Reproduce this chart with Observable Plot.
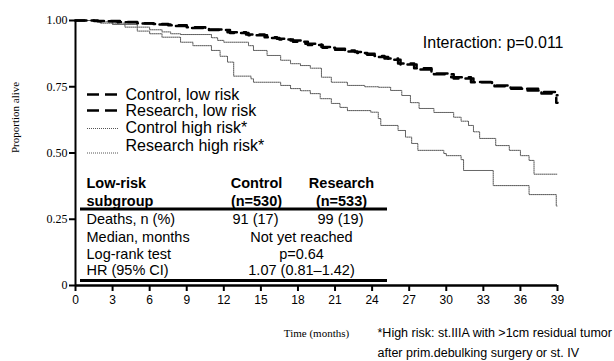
<!DOCTYPE html>
<html><head><meta charset="utf-8">
<script src="https://cdn.jsdelivr.net/npm/d3@7"></script>
<script src="https://cdn.jsdelivr.net/npm/@observablehq/plot@0.6"></script>
<style>html,body{margin:0;padding:0;background:#fff;}</style>
</head><body><div id="chart"></div>
<script>
// ---- data ----
const xTicks = [0,3,6,9,12,15,18,21,24,27,30,33,36,39];
const yTicks = [0,0.25,0.5,0.75,1];
const yTickLabels = ["0","0.25","0.50","0.75","1.00"];

const ctrlLowT = [0,1.5,3.6,5,6.3,7.5,9,10.5,12.3,13.8,15.3,16.3,17.4,18.6,19.9,20.8,21.8,22.6,23.4,24.2,25,26.1,27.4,28.8,30.4,32,33.7,35,36.3,37.5,38.9,39];
const ctrlLowS = [1,0.998,0.994,0.99,0.987,0.982,0.975,0.966,0.956,0.947,0.937,0.931,0.925,0.912,0.9,0.893,0.887,0.881,0.875,0.866,0.857,0.838,0.82,0.8,0.786,0.767,0.755,0.742,0.736,0.73,0.69,0.69];
const resLowT = [0,1.8,3.4,5.2,6.5,7.8,9.2,10.8,12.5,14,15.5,16.5,17.6,18.8,20,21,22,22.8,23.6,24.4,25.3,26.3,27.6,29,30.6,32.2,33.9,35.2,36.5,37.7,38.7,39];
const resLowS = [1,0.997,0.993,0.989,0.985,0.979,0.972,0.964,0.953,0.944,0.934,0.928,0.92,0.908,0.897,0.89,0.883,0.877,0.871,0.862,0.852,0.834,0.815,0.797,0.781,0.768,0.752,0.746,0.742,0.725,0.718,0.718];
const ctrlHighT = [0,2.3,3,4,5,6,7,7.7,8.5,11,11.5,12,14,14.4,15.5,16.6,17.4,18.2,19,19.9,20.7,22,23.4,24.5,25.5,26.4,27.1,27.8,29,30.6,31.2,31.8,32.2,32.7,34,35.1,36,36.7,37.1,39];
const ctrlHighS = [1,0.995,0.99,0.985,0.975,0.965,0.957,0.95,0.947,0.935,0.925,0.918,0.905,0.887,0.868,0.85,0.837,0.83,0.82,0.786,0.767,0.755,0.75,0.748,0.736,0.717,0.69,0.668,0.653,0.635,0.62,0.604,0.58,0.555,0.528,0.51,0.49,0.472,0.42,0.42];
const resHighT = [0,2,3,4,5,6,7,8.5,9.5,11,11.7,12.3,12.8,14.2,14.4,16.6,17.4,18.2,19,19.8,20.7,21.4,22,23.9,24.5,24.7,26.1,26.7,27.2,27.7,29.8,30,31.2,31.4,33.8,36.7,38.9,39];
const resHighS = [1,0.99,0.985,0.975,0.96,0.95,0.937,0.918,0.905,0.887,0.865,0.843,0.79,0.78,0.767,0.755,0.743,0.735,0.724,0.705,0.687,0.672,0.66,0.654,0.63,0.604,0.585,0.56,0.536,0.51,0.498,0.49,0.475,0.434,0.377,0.343,0.3,0.3];

const legendLabels = ["Control, low risk","Research, low risk","Control high risk*","Research high risk*"];
const tableHeadLeft = ["Low-risk","subgroup"];
const controlHead = ["Control","(n=530)"];
const researchHead = ["Research","(n=533)"];
const rowLabels = ["Deaths, n (%)","Median, months","Log-rank test","HR (95% CI)"];
const deaths = ["91 (17)","99 (19)"];
const spanValues = ["Not yet reached","p=0.64","1.07 (0.81\u20131.42)"];
const interactionText = "Interaction: p=0.011";
const footnote = "*High risk: st.IIIA with >1cm residual tumor\nafter prim.debulking surgery or st. IV";
const xLabel = "Time (months)";
const yLabel = "Proportion alive";

// ---- layout ----
const W = 614, H = 361, ML = 75, MR = 57, MT = 20, MB = 76;
const px2x = px => (px - ML) * 39 / (W - ML - MR);
const py2y = py => (H - MB - py) / (H - MB - MT);
const pts = (T, S) => T.map((t, i) => ({t, s: S[i]}));
const SANS = "Liberation Sans, Arial, sans-serif";
const SERIF = "Liberation Serif, Times New Roman, serif";

const legendY = [94, 110, 127.5, 145.5];
const legendLineY = [94, 110, 128, 152.5];
const rowY = [219, 237, 254, 270];
const TFS = 14.5;

const chart = Plot.plot({
  width: W, height: H,
  marginLeft: ML, marginRight: MR, marginTop: MT, marginBottom: MB,
  style: {fontFamily: SANS, fontSize: "12px", background: "#fff", color: "#000"},
  x: {domain: [0, 39]},
  y: {domain: [0, 1]},
  marks: [
    Plot.axisY({ticks: yTicks, tickFormat: d => yTickLabels[yTicks.indexOf(d)], tickSize: 6, tickPadding: 2, strokeWidth: 2, fontFamily: SERIF, fontSize: 12, label: null}),
    Plot.axisX({ticks: xTicks, tickSize: 6, tickPadding: 4, strokeWidth: 2, fontSize: 12, label: null}),
    Plot.ruleX([0], {y1: 0, y2: 1, strokeWidth: 2}),
    Plot.ruleY([0], {x1: 0, x2: 39, strokeWidth: 2.5}),
    // curves
    Plot.line(pts(ctrlHighT, ctrlHighS), {x: "t", y: "s", curve: "step-after", stroke: "#555", strokeWidth: 1, strokeDasharray: "1,1"}),
    Plot.line(pts(resHighT, resHighS), {x: "t", y: "s", curve: "step-after", stroke: "#555", strokeWidth: 1, strokeDasharray: "1,1"}),
    Plot.line(pts(ctrlLowT, ctrlLowS), {x: "t", y: "s", curve: "step-after", stroke: "#000", strokeWidth: 2.5, strokeDasharray: "11,7"}),
    Plot.line(pts(resLowT, resLowS), {x: "t", y: "s", curve: "step-after", stroke: "#000", strokeWidth: 2.5, strokeDasharray: "11,7", strokeDashoffset: 2}),
    // legend
    Plot.ruleY([legendLabels[0]], {y: () => py2y(legendLineY[0]), x1: px2x(87), x2: px2x(118), stroke: "#000", strokeWidth: 2.5, strokeDasharray: "12,6"}),
    Plot.ruleY([legendLabels[1]], {y: () => py2y(legendLineY[1]), x1: px2x(87), x2: px2x(118), stroke: "#000", strokeWidth: 2.5, strokeDasharray: "12,6"}),
    Plot.ruleY([legendLabels[2]], {y: () => py2y(legendLineY[2]), x1: px2x(87), x2: px2x(118), stroke: "#555", strokeWidth: 1, strokeDasharray: "1,1"}),
    Plot.ruleY([legendLabels[3]], {y: () => py2y(legendLineY[3]), x1: px2x(87), x2: px2x(118), stroke: "#555", strokeWidth: 1, strokeDasharray: "1,1"}),
    Plot.text(legendLabels, {x: () => px2x(125), y: (d, i) => py2y(legendY[i]), text: d => d, textAnchor: "start", fontSize: 16}),
    // interaction
    Plot.text([interactionText], {frameAnchor: "top-right", dx: 6, dy: 16, text: d => d, textAnchor: "end", fontSize: 16}),
    // table
    Plot.text(tableHeadLeft, {x: () => px2x(86), y: (d, i) => py2y([183, 201][i]), text: d => d, textAnchor: "start", fontSize: TFS, fontWeight: "bold"}),
    Plot.text(controlHead, {x: () => px2x(256), y: (d, i) => py2y([183, 201][i]), text: d => d, textAnchor: "middle", fontSize: TFS, fontWeight: "bold"}),
    Plot.text(researchHead, {x: () => px2x(341), y: (d, i) => py2y([183, 201][i]), text: d => d, textAnchor: "middle", fontSize: TFS, fontWeight: "bold"}),
    Plot.ruleY([0], {y: () => py2y(208.5), x1: px2x(80), x2: px2x(387), strokeWidth: 3}),
    Plot.ruleY([0], {y: () => py2y(280), x1: px2x(80), x2: px2x(387), strokeWidth: 3}),
    Plot.text(rowLabels, {x: () => px2x(86), y: (d, i) => py2y(rowY[i]), text: d => d, textAnchor: "start", fontSize: TFS}),
    Plot.text(deaths, {x: (d, i) => px2x([255, 340][i]), y: () => py2y(rowY[0]), text: d => d, textAnchor: "middle", fontSize: TFS}),
    Plot.text(spanValues, {x: () => px2x(301), y: (d, i) => py2y(rowY[i + 1]), text: d => d, textAnchor: "middle", fontSize: TFS}),
    // axis titles and footnote
    Plot.text([xLabel], {frameAnchor: "bottom", dy: 51, text: d => d, fontFamily: SERIF, fontSize: 11}),
    Plot.text([yLabel], {frameAnchor: "left", dx: -60, rotate: -90, text: d => d, fontFamily: SERIF, fontSize: 11}),
    Plot.text([footnote], {frameAnchor: "bottom-left", dx: 302, dy: 71, text: d => d, textAnchor: "start", fontSize: 12.5, lineHeight: 1.6})
  ]
});
document.getElementById("chart").appendChild(chart);
</script>
</body></html>
